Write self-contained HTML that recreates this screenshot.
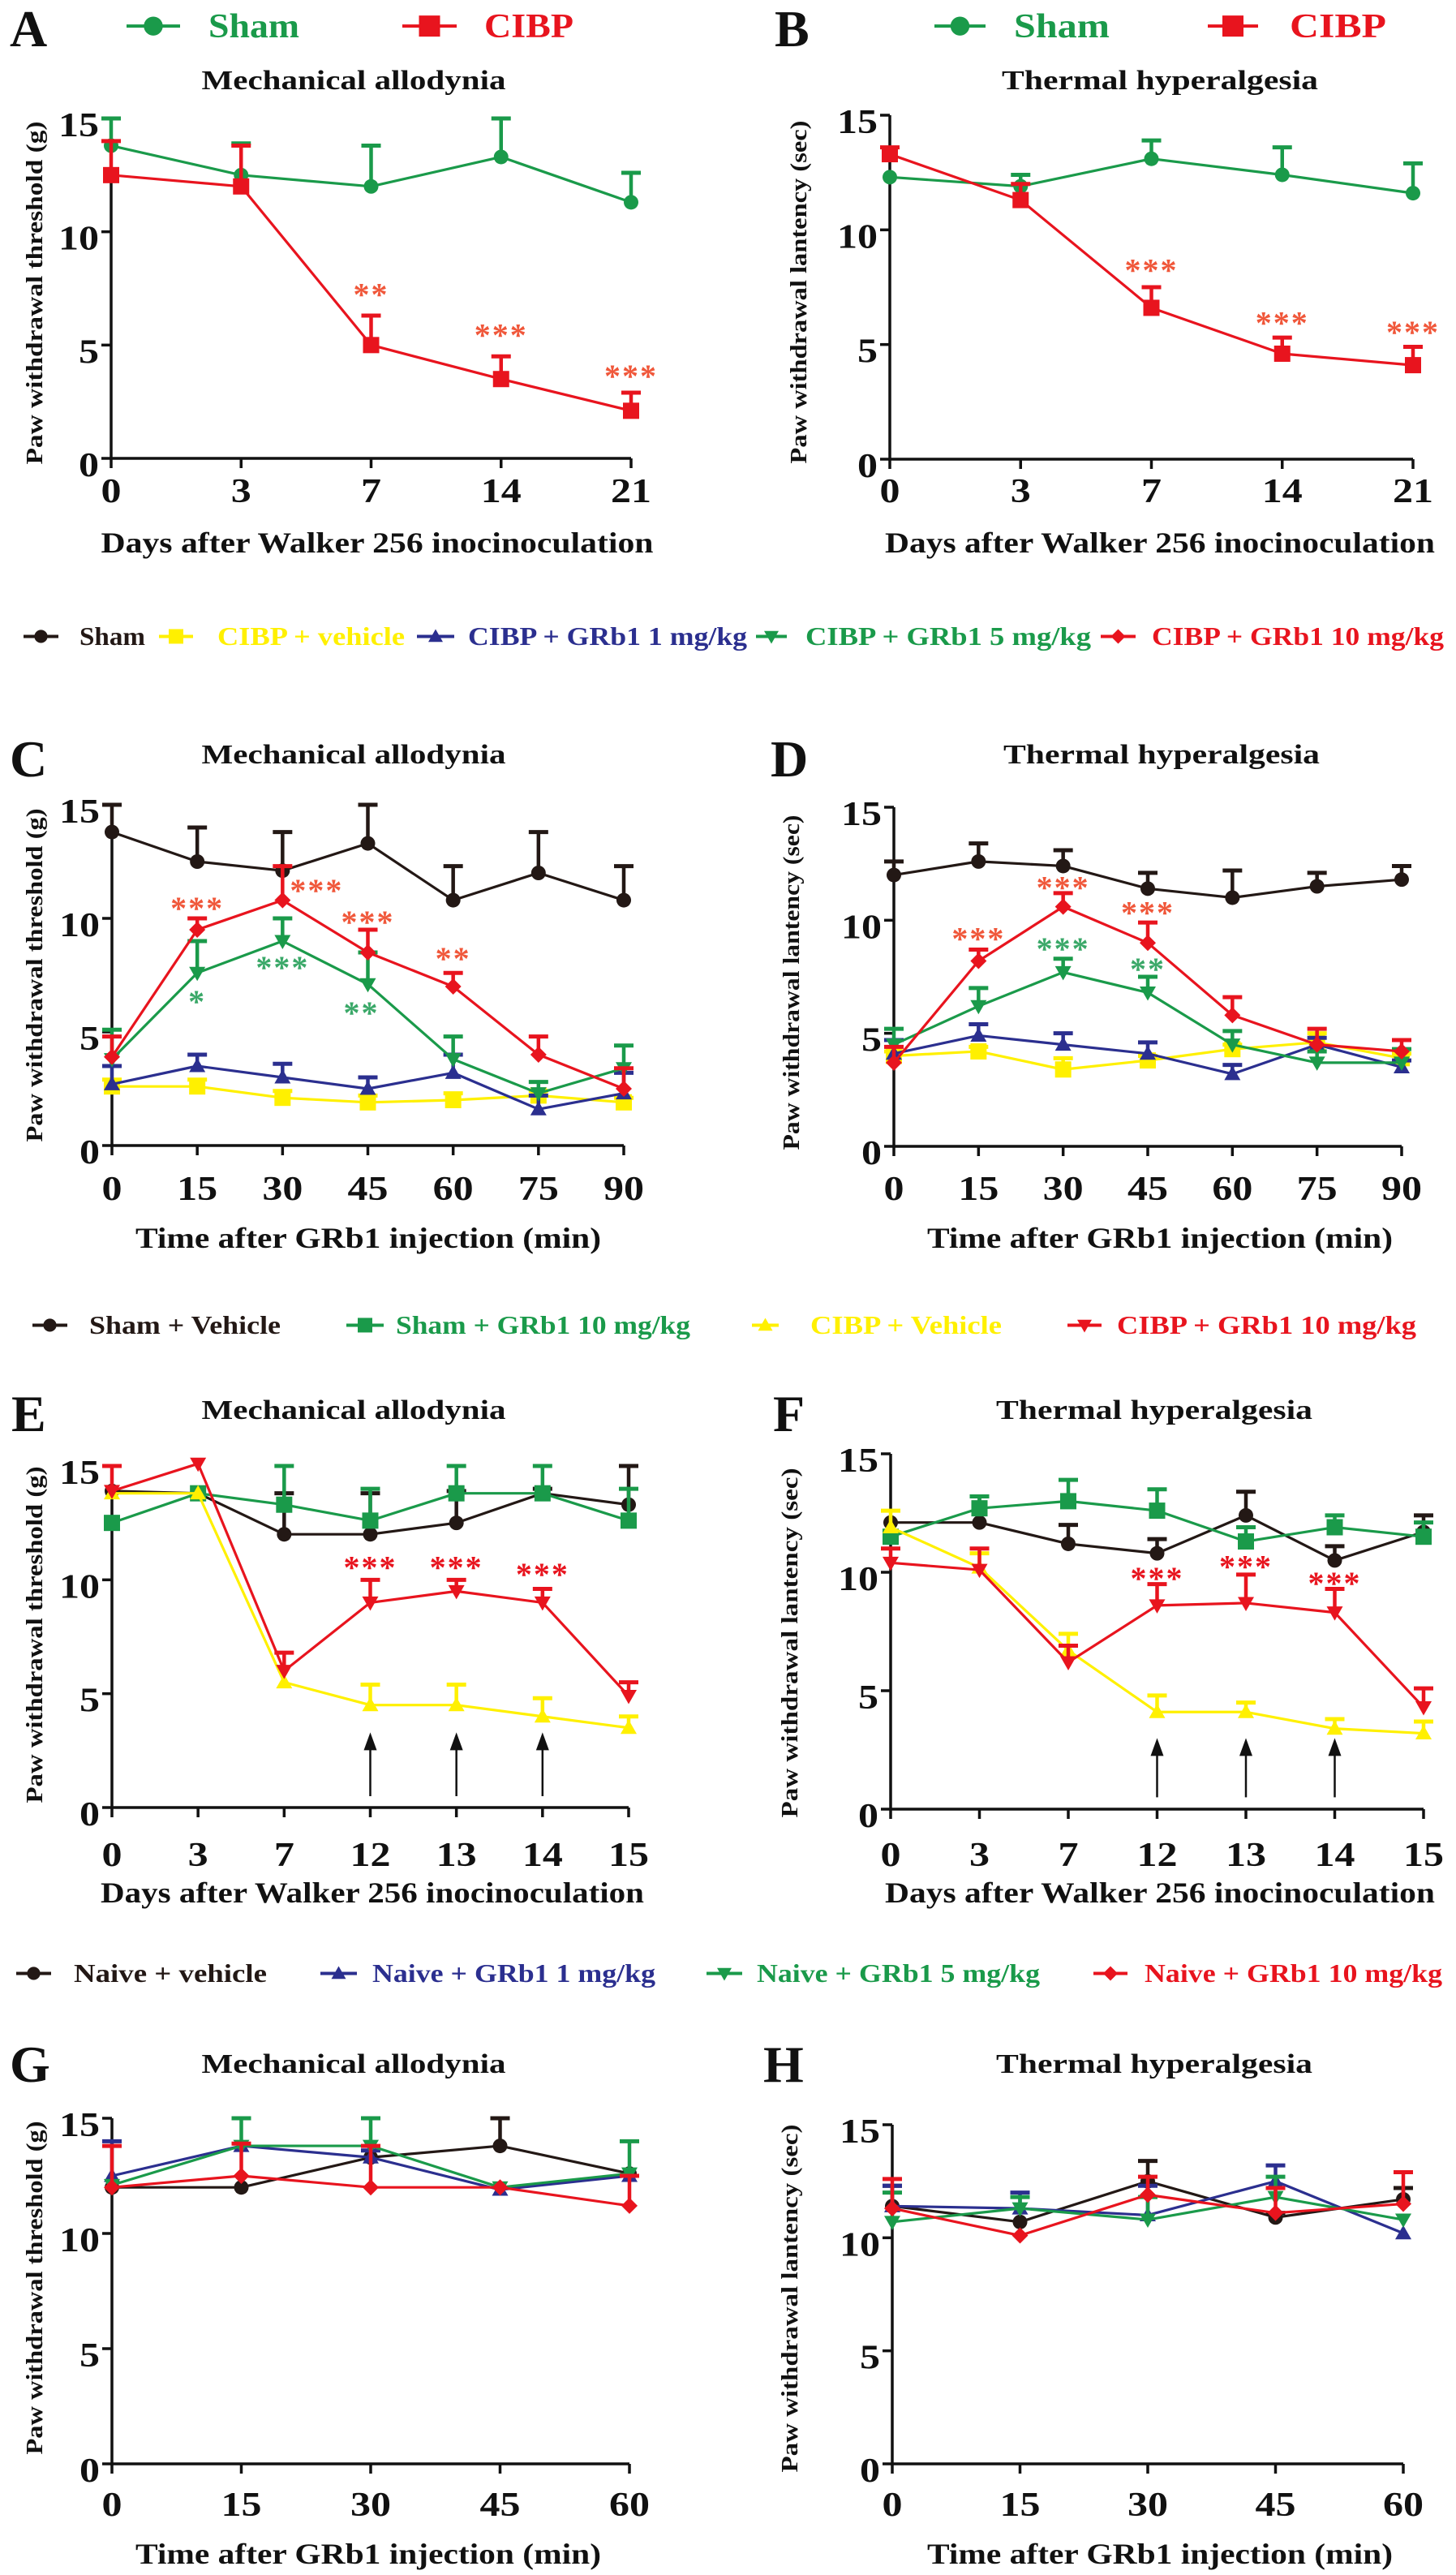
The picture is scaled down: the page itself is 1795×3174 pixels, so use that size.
<!DOCTYPE html>
<html><head><meta charset="utf-8"><style>
html,body{margin:0;padding:0;background:#fff}
svg{display:block}
text{font-family:"Liberation Serif","Times New Roman",serif;font-weight:bold}
</style></head><body>
<svg id="fig" width="1795" height="3174" viewBox="0 0 1795 3174" xmlns="http://www.w3.org/2000/svg"></svg>
<script>
// ---------- DATA ----------
const catsAB = ['0','3','7','14','21'];
const A_sham = [13.8,12.5,12.0,13.3,11.3];
const A_shamErr = [1.2,1.4,1.8,1.7,1.3];
const A_cibp = [12.5,12.0,5.0,3.5,2.1];
const A_cibpErr = [1.5,1.8,1.3,1.0,0.8];
const A_stars = ['','','**','***','***'];
const A_starVals = [0,0,7.4,5.6,3.8];
const B_sham = [12.3,11.9,13.1,12.4,11.6];
const B_shamErr = [0,0.5,0.8,1.2,1.3];
const B_cibp = [13.3,11.3,6.6,4.6,4.1];
const B_cibpErr = [0.3,0.7,0.9,0.7,0.8];
const B_stars = ['','','***','***','***'];
const B_starVals = [0,0,8.4,6.1,5.7];

const catsCD = ['0','15','30','45','60','75','90'];
const C_sham = [13.8,12.5,12.1,13.3,10.8,12.0,10.8];
const C_shamErr = [1.2,1.5,1.7,1.7,1.5,1.8,1.5];
const C_veh = [2.6,2.6,2.1,1.9,2.0,2.2,1.9];
const C_vehErr = [0.3,0.3,0.3,0.3,0.3,0.2,0.2];
const C_g1 = [2.7,3.5,3.0,2.5,3.2,1.6,2.3];
const C_g1Err = [0.8,0.5,0.6,0.5,0.8,0.6,0.9];
const C_g5 = [3.8,7.6,9.0,7.1,3.8,2.3,3.4];
const C_g5Err = [1.3,1.4,1.0,1.4,1.0,0.5,1.0];
const C_g10 = [3.9,9.5,10.8,8.5,7.0,4.0,2.5];
const C_g10Err = [0.9,0.5,1.5,1.0,0.6,0.8,0.9];
const C_redStars = ['','***','***','***','**','',''];
const C_redStarVals = [0,10.6,11.4,10.0,8.4,0,0];
const C_greenStars = ['','*','***','**','','',''];
const C_greenStarVals = [0,6.5,8.0,6.0,0,0,0];

const D_sham = [12.0,12.6,12.4,11.4,11.0,11.5,11.8];
const D_shamErr = [0.6,0.8,0.7,0.7,1.2,0.6,0.6];
const D_veh = [4.0,4.2,3.4,3.8,4.3,4.6,3.9];
const D_vehErr = [0.2,0.2,0.5,0.2,0.2,0.4,0.2];
const D_g1 = [4.1,4.9,4.5,4.1,3.2,4.5,3.5];
const D_g1Err = [0.6,0.5,0.5,0.5,0.4,0.3,0.3];
const D_g5 = [4.5,6.2,7.7,6.8,4.5,3.7,3.7];
const D_g5Err = [0.7,0.8,0.6,0.7,0.6,0.5,0.6];
const D_g10 = [3.7,8.2,10.6,9.0,5.8,4.5,4.2];
const D_g10Err = [0.7,0.5,0.6,0.9,0.8,0.7,0.5];
const D_redStars = ['','***','***','***','','',''];
const D_redStarVals = [0,9.35,11.6,10.5,0,0,0];
const D_greenStars = ['','','***','**','','',''];
const D_greenStarVals = [0,0,8.9,8.0,0,0,0];

const catsEF = ['0','3','7','12','13','14','15'];
const E_sham = [13.9,13.8,12.0,12.0,12.5,13.8,13.3];
const E_shamErr = [0,0,1.8,1.8,1.4,0.2,1.7];
const E_shamG = [12.5,13.8,13.3,12.6,13.8,13.8,12.6];
const E_shamGErr = [0,0,1.7,1.4,1.2,1.2,1.4];
const E_veh = [13.8,13.8,5.5,4.5,4.5,4.0,3.5];
const E_vehErr = [0,0,0,0.9,0.9,0.8,0.5];
const E_g10 = [13.9,15.1,6.0,9.0,9.5,9.0,4.9];
const E_g10Err = [1.1,0,0.8,1.0,0.5,0.6,0.6];
const E_stars = ['','','','***','***','***',''];
const E_starVals = [0,0,0,10.7,10.7,10.4,0];
const E_arrowFrom = 0.5, E_arrowTo = 3.3;

const F_sham = [12.1,12.1,11.2,10.8,12.4,10.5,11.7];
const F_shamErr = [0,1.1,0.8,0.6,1.0,0.6,0.7];
const F_shamG = [11.5,12.7,13.0,12.6,11.3,11.9,11.5];
const F_shamGErr = [0,0.5,0.9,0.9,0.6,0.5,0.6];
const F_veh = [11.9,10.2,6.7,4.1,4.1,3.4,3.2];
const F_vehErr = [0.7,0.6,0.7,0.7,0.4,0.4,0.5];
const F_g10 = [10.4,10.1,6.2,8.6,8.7,8.3,4.3];
const F_g10Err = [0.6,0.9,0.7,0.9,1.2,1.0,0.8];
const F_stars = ['','','','***','***','***',''];
const F_starVals = [0,0,0,9.9,10.4,9.7,0];
const F_arrowFrom = 0.5, F_arrowTo = 3.0;

const catsGH = ['0','15','30','45','60'];
const G_veh = [12.0,12.0,13.3,13.8,12.6];
const G_vehErr = [0,0,0,1.2,0];
const G_g1 = [12.5,13.8,13.3,11.9,12.5];
const G_g1Err = [1.5,0,0.3,0,0];
const G_g5 = [12.1,13.8,13.8,12.0,12.6];
const G_g5Err = [0,1.2,1.2,0,1.4];
const G_g10 = [12.0,12.5,12.0,12.0,11.2];
const G_g10Err = [1.8,1.4,1.8,0,1.3];
const H_veh = [11.4,10.7,12.5,10.9,11.7];
const H_vehErr = [0.9,0,0.9,0.2,0.5];
const H_g1 = [11.4,11.3,11.0,12.5,10.2];
const H_g1Err = [0.9,0.7,1.3,0.7,0];
const H_g5 = [10.7,11.3,10.8,11.8,10.8];
const H_g5Err = [1.3,0.5,1.0,0.9,0];
const H_g10 = [11.3,10.1,11.9,11.1,11.5];
const H_g10Err = [1.3,0,0.8,1.1,1.4];

const yTicks = [0,5,10,15];
const yTickLabels = ['0','5','10','15'];

// ---------- DRAWING ----------
const NS = 'http://www.w3.org/2000/svg';
const svg = document.getElementById('fig');
const C_GREEN='#1a9a4a', C_RED='#e8141e', C_BLACK='#231815', C_YEL='#fff000', C_BLUE='#2b2f8f';
const STAR_RED='#f0573a', STAR_GREEN='#3aa868';

function mk(tag, attrs, parent){
  const e=document.createElementNS(NS,tag);
  for(const k in attrs) e.setAttribute(k,attrs[k]);
  (parent||svg).appendChild(e);
  return e;
}
function txt(str, attrs, parent){
  const t=mk('text',attrs,parent); t.textContent=str; return t;
}
function marker(g, shape, x, y, color, s){
  s=s||10;
  let m;
  if(shape==='circle') m=mk('circle',{cx:x,cy:y,r:s*0.9,fill:color},g);
  else if(shape==='square') m=mk('rect',{x:x-s,y:y-s,width:2*s,height:2*s,fill:color},g);
  else if(shape==='tri') m=mk('polygon',{points:`${x},${y-s} ${x-s},${y+s*0.75} ${x+s},${y+s*0.75}`,fill:color},g);
  else if(shape==='tridown') m=mk('polygon',{points:`${x},${y+s} ${x-s},${y-s*0.75} ${x+s},${y-s*0.75}`,fill:color},g);
  else m=mk('polygon',{points:`${x},${y-s} ${x+s},${y} ${x},${y+s} ${x-s},${y}`,fill:color},g);
  return m;
}

function panel(p){
  const g=mk('g',{});
  
  
  const n=p.cats.length;
  const xs=i=>p.x0+(p.x1-p.x0)*i/(n-1);
  const ys=v=>p.y0-(p.y0-p.y15)*v/15;
  const L=txt(p.letter,{x:p.lx,y:p.ly,'font-size':64,fill:'#111'},g);
  
  
  const T=txt(p.title,{x:p.tcx,y:p.ty,'font-size':34,'text-anchor':'middle',fill:'#111',textLength:p.tw,lengthAdjust:'spacingAndGlyphs'},g);
  
  
  const ax=mk('path',{d:`M${p.x0},${ys(15)} L${p.x0},${p.y0} L${p.x1},${p.y0}`,stroke:'#111','stroke-width':3.5,fill:'none'},g);
  
  
  yTicks.forEach((v,i)=>{
    mk('line',{x1:p.x0-12,x2:p.x0,y1:ys(v),y2:ys(v),stroke:'#111','stroke-width':3.5},g);
    const lab=yTickLabels[i];
    const t=txt(lab,{x:p.x0-15,y:ys(v)+22,'font-size':42,'text-anchor':'end',fill:'#111',textLength:25*lab.length,lengthAdjust:'spacingAndGlyphs'},g);
    
    
  });
  p.cats.forEach((c,i)=>{
    mk('line',{x1:xs(i),x2:xs(i),y1:p.y0,y2:p.y0+12,stroke:'#111','stroke-width':3.5},g);
    const t=txt(c,{x:xs(i),y:p.tly,'font-size':42,'text-anchor':'middle',fill:'#111',textLength:25*c.length,lengthAdjust:'spacingAndGlyphs'},g);
    
    
  });
  const yt=txt(p.ylab,{x:0,y:0,'font-size':28,'text-anchor':'middle',fill:'#111',transform:`translate(${p.ytx},${p.yty}) rotate(-90)`,textLength:p.ytw,lengthAdjust:'spacingAndGlyphs'},g);
  
  
  const xt=txt(p.xlab,{x:p.xtx,y:p.xty,'font-size':36,'text-anchor':'middle',fill:'#111',textLength:p.xtw,lengthAdjust:'spacingAndGlyphs'},g);
  
  
  if(p.arrows){
    p.arrows.idx.forEach(i=>{
      const a=mk('g',{},g);
      
      
      mk('line',{x1:xs(i),x2:xs(i),y1:ys(p.arrows.from),y2:ys(p.arrows.to)+14,stroke:'#111','stroke-width':2.5},a);
      mk('polygon',{points:`${xs(i)},${ys(p.arrows.to)} ${xs(i)-8},${ys(p.arrows.to)+22} ${xs(i)+8},${ys(p.arrows.to)+22}`,fill:'#111'},a);
    });
  }
  p.series.forEach(s=>{
    const sg=mk('g',{},g);
    
    
    s.vals.forEach((v,i)=>{
      const e=s.errs[i];
      if(e>0){
        mk('line',{x1:xs(i),x2:xs(i),y1:ys(v),y2:ys(v+e),stroke:s.color,'stroke-width':4.5},sg);
        mk('line',{x1:xs(i)-12,x2:xs(i)+12,y1:ys(v+e),y2:ys(v+e),stroke:s.color,'stroke-width':5},sg);
      }
    });
    const pts=s.vals.map((v,i)=>`${xs(i)},${ys(v)}`).join(' ');
    const pl=mk('polyline',{points:pts,fill:'none',stroke:s.color,'stroke-width':3.2,'stroke-linejoin':'round'},sg);
    
    
    s.vals.forEach((v,i)=>{
      const m=marker(sg,s.shape,xs(i),ys(v),s.color,10);
      
      
    });
  });
  (p.stars||[]).forEach(st=>{
    st.labels.forEach((lab,i)=>{
      if(!lab) return;
      const dx=(st.dx&&st.dx[i])||0;
      const t=txt(lab,{x:xs(i)+dx,y:ys(st.vals[i])+18,'font-size':40,'font-weight':'normal','text-anchor':'middle',fill:st.color,'letter-spacing':2},g);
      
      
    });
  });
}

function legendItem(x1,x2,tx,y,shape,color,label,tw,fs){
  const g=mk('g',{});
  
  
  const ly=y-fs*0.33;
  mk('line',{x1:x1,x2:x2,y1:ly,y2:ly,stroke:color,'stroke-width':4},g);
  marker(g,shape,(x1+x2)/2,ly,color,fs>34?13:9);
  txt(label,{x:tx,y:y,'font-size':fs,fill:color,textLength:tw,lengthAdjust:'spacingAndGlyphs'},g);
}

const YL_M='Paw withdrawal threshold (g)', YL_T='Paw withdrawal lantency (sec)';
const XL_D='Days after Walker 256 inocinoculation', XL_T='Time after GRb1 injection (min)';

legendItem(156,222,257,46,'circle',C_GREEN,'Sham',112,42);
legendItem(496,563,597,46,'square',C_RED,'CIBP',110,42);
legendItem(1152,1215,1250,46,'circle',C_GREEN,'Sham',118,42);
legendItem(1489,1551,1590,46,'square',C_RED,'CIBP',119,42);

panel({name:'panel-a-mechanical',letter:'A',lx:12,ly:57,title:'Mechanical allodynia',tcx:436,ty:110,tw:375,
  x0:137,x1:778,y15:146,y0:565,tly:619,cats:catsAB,ylab:YL_M,ytx:52,yty:361,ytw:423,xlab:XL_D,xtx:465,xty:681,xtw:681,
  series:[{name:'sham-series',vals:A_sham,errs:A_shamErr,color:C_GREEN,shape:'circle'},
          {name:'cibp-series',vals:A_cibp,errs:A_cibpErr,color:C_RED,shape:'square'}],
  stars:[{labels:A_stars,vals:A_starVals,color:STAR_RED}]});
panel({name:'panel-b-thermal',letter:'B',lx:955,ly:57,title:'Thermal  hyperalgesia',tcx:1430,ty:110,tw:390,
  x0:1097,x1:1742,y15:142,y0:566,tly:619,cats:catsAB,ylab:YL_T,ytx:994,yty:360,ytw:423,xlab:XL_D,xtx:1430,xty:681,xtw:678,
  series:[{name:'sham-series',vals:B_sham,errs:B_shamErr,color:C_GREEN,shape:'circle'},
          {name:'cibp-series',vals:B_cibp,errs:B_cibpErr,color:C_RED,shape:'square'}],
  stars:[{labels:B_stars,vals:B_starVals,color:STAR_RED}]});

const L1=795;
legendItem(29,72,98,L1,'circle',C_BLACK,'Sham',81,32);
legendItem(196,238,268,L1,'square',C_YEL,'CIBP + vehicle',231,32);
legendItem(514,560,577,L1,'tri',C_BLUE,'CIBP + GRb1 1 mg/kg',344,32);
legendItem(932,970,993,L1,'tridown',C_GREEN,'CIBP + GRb1 5 mg/kg',352,32);
legendItem(1357,1400,1420,L1,'diamond',C_RED,'CIBP + GRb1 10 mg/kg',360,32);

const cdSeries=(sh,she,v,ve,a,ae,b,be,c,ce)=>[
  {name:'sham-series',vals:sh,errs:she,color:C_BLACK,shape:'circle'},
  {name:'cibp-vehicle-series',vals:v,errs:ve,color:C_YEL,shape:'square'},
  {name:'grb1-1mg-series',vals:a,errs:ae,color:C_BLUE,shape:'tri'},
  {name:'grb1-5mg-series',vals:b,errs:be,color:C_GREEN,shape:'tridown'},
  {name:'grb1-10mg-series',vals:c,errs:ce,color:C_RED,shape:'diamond'}];
panel({name:'panel-c-mechanical',letter:'C',lx:12,ly:957,title:'Mechanical allodynia',tcx:436,ty:941,tw:375,
  x0:138,x1:769,y15:992,y0:1412,tly:1479,cats:catsCD,ylab:YL_M,ytx:52,yty:1202,ytw:411,xlab:XL_T,xtx:454,xty:1538,xtw:574,
  series:cdSeries(C_sham,C_shamErr,C_veh,C_vehErr,C_g1,C_g1Err,C_g5,C_g5Err,C_g10,C_g10Err),
  stars:[{labels:C_redStars,vals:C_redStarVals,color:STAR_RED,dx:[0,0,42,0,0,0,0]},{labels:C_greenStars,vals:C_greenStarVals,color:STAR_GREEN,dx:[0,0,0,-8,0,0,0]}]});
panel({name:'panel-d-thermal',letter:'D',lx:950,ly:957,title:'Thermal  hyperalgesia',tcx:1432,ty:941,tw:390,
  x0:1102,x1:1728,y15:995,y0:1413,tly:1479,cats:catsCD,ylab:YL_T,ytx:985,yty:1211,ytw:413,xlab:XL_T,xtx:1430,xty:1538,xtw:574,
  series:cdSeries(D_sham,D_shamErr,D_veh,D_vehErr,D_g1,D_g1Err,D_g5,D_g5Err,D_g10,D_g10Err),
  stars:[{labels:D_redStars,vals:D_redStarVals,color:STAR_RED},{labels:D_greenStars,vals:D_greenStarVals,color:STAR_GREEN}]});

const L2=1644;
legendItem(40,83,110,L2,'circle',C_BLACK,'Sham + Vehicle',236,32);
legendItem(427,473,488,L2,'square',C_GREEN,'Sham + GRb1 10 mg/kg',363,32);
legendItem(927,960,999,L2,'tri',C_YEL,'CIBP + Vehicle',236,32);
legendItem(1316,1358,1377,L2,'tridown',C_RED,'CIBP + GRb1 10 mg/kg',369,32);

const efSeries=(sh,she,sg,sge,v,ve,r,re)=>[
  {name:'sham-vehicle-series',vals:sh,errs:she,color:C_BLACK,shape:'circle'},
  {name:'sham-grb1-series',vals:sg,errs:sge,color:C_GREEN,shape:'square'},
  {name:'cibp-vehicle-series',vals:v,errs:ve,color:C_YEL,shape:'tri'},
  {name:'cibp-grb1-series',vals:r,errs:re,color:C_RED,shape:'tridown'}];
panel({name:'panel-e-mechanical',letter:'E',lx:14,ly:1764,title:'Mechanical allodynia',tcx:436,ty:1749,tw:375,
  x0:138,x1:775,y15:1807,y0:2228,tly:2300,cats:catsEF,ylab:YL_M,ytx:52,yty:2015,ytw:415,xlab:XL_D,xtx:459,xty:2345,xtw:670,
  series:efSeries(E_sham,E_shamErr,E_shamG,E_shamGErr,E_veh,E_vehErr,E_g10,E_g10Err),
  arrows:{idx:[3,4,5],from:E_arrowFrom,to:E_arrowTo},
  stars:[{labels:E_stars,vals:E_starVals,color:C_RED}]});
panel({name:'panel-f-thermal',letter:'F',lx:953,ly:1764,title:'Thermal  hyperalgesia',tcx:1423,ty:1749,tw:390,
  x0:1098,x1:1755,y15:1792,y0:2230,tly:2300,cats:catsEF,ylab:YL_T,ytx:983,yty:2025,ytw:431,xlab:XL_D,xtx:1430,xty:2345,xtw:678,
  series:efSeries(F_sham,F_shamErr,F_shamG,F_shamGErr,F_veh,F_vehErr,F_g10,F_g10Err),
  arrows:{idx:[3,4,5],from:F_arrowFrom,to:F_arrowTo},
  stars:[{labels:F_stars,vals:F_starVals,color:C_RED}]});

const L3=2443;
legendItem(20,63,91,L3,'circle',C_BLACK,'Naive + vehicle',238,32);
legendItem(395,440,459,L3,'tri',C_BLUE,'Naive + GRb1 1 mg/kg',349,32);
legendItem(871,915,933,L3,'tridown',C_GREEN,'Naive + GRb1 5 mg/kg',349,32);
legendItem(1348,1390,1411,L3,'diamond',C_RED,'Naive + GRb1 10 mg/kg',367,32);

const ghSeries=(a,ae,b,be,c,ce,d,de)=>[
  {name:'naive-vehicle-series',vals:a,errs:ae,color:C_BLACK,shape:'circle'},
  {name:'naive-grb1-1mg-series',vals:b,errs:be,color:C_BLUE,shape:'tri'},
  {name:'naive-grb1-5mg-series',vals:c,errs:ce,color:C_GREEN,shape:'tridown'},
  {name:'naive-grb1-10mg-series',vals:d,errs:de,color:C_RED,shape:'diamond'}];
panel({name:'panel-g-mechanical',letter:'G',lx:12,ly:2566,title:'Mechanical allodynia',tcx:436,ty:2555,tw:375,
  x0:138,x1:776,y15:2611,y0:3037,tly:3101,cats:catsGH,ylab:YL_M,ytx:52,yty:2820,ytw:411,xlab:XL_T,xtx:454,xty:3160,xtw:574,
  series:ghSeries(G_veh,G_vehErr,G_g1,G_g1Err,G_g5,G_g5Err,G_g10,G_g10Err)});
panel({name:'panel-h-thermal',letter:'H',lx:941,ly:2566,title:'Thermal  hyperalgesia',tcx:1423,ty:2555,tw:390,
  x0:1100,x1:1730,y15:2619,y0:3037,tly:3101,cats:catsGH,ylab:YL_T,ytx:983,yty:2833,ytw:429,xlab:XL_T,xtx:1430,xty:3160,xtw:574,
  series:ghSeries(H_veh,H_vehErr,H_g1,H_g1Err,H_g5,H_g5Err,H_g10,H_g10Err)});
</script>
</body></html>
